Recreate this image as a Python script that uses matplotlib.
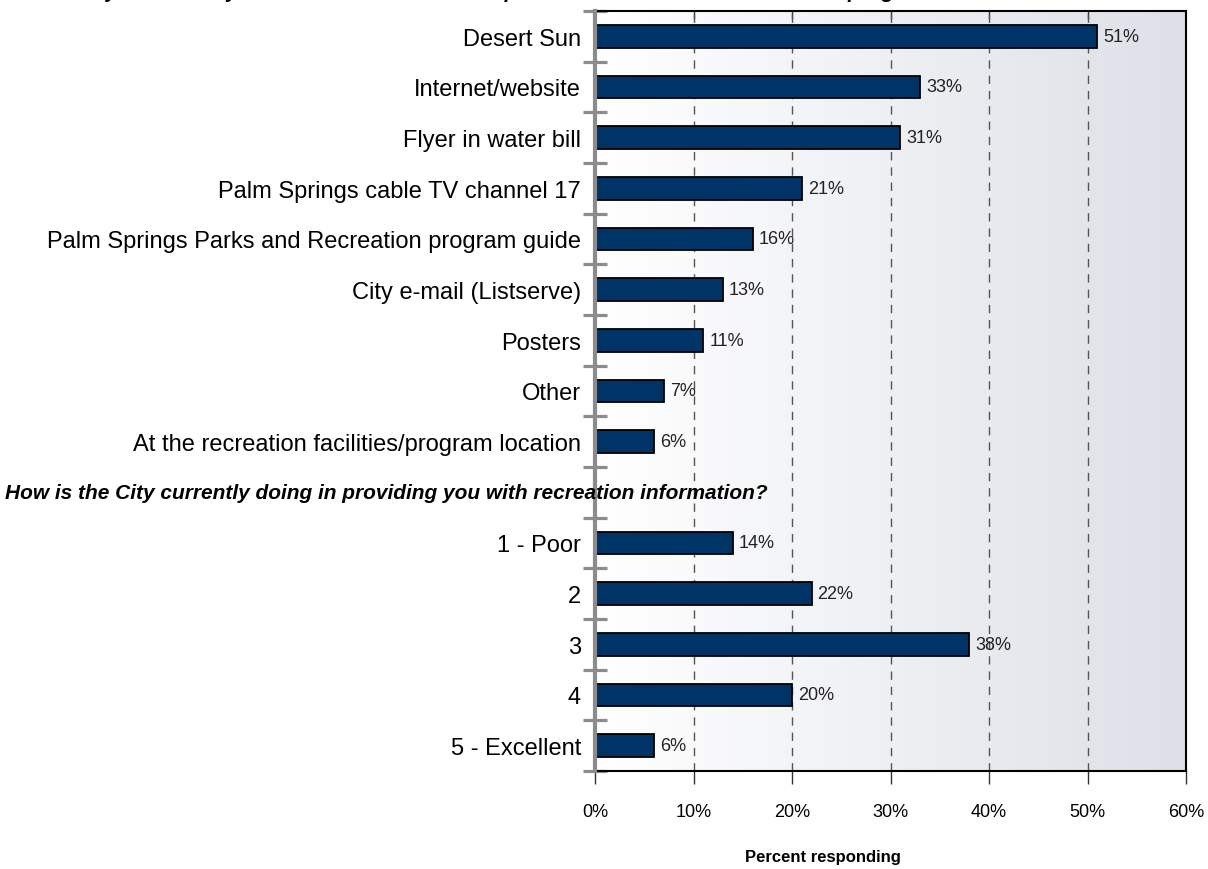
import numpy as np
import matplotlib
matplotlib.use("Agg")
import matplotlib.pyplot as plt
from matplotlib.transforms import blended_transform_factory

plt.rcParams['font.family'] = ['Liberation Sans', 'DejaVu Sans']

# Data
source_labels = ["Desert Sun", "Internet/website", "Flyer in water bill",
                 "Palm Springs cable TV channel 17",
                 "Palm Springs Parks and Recreation program guide",
                 "City e-mail (Listserve)", "Posters", "Other",
                 "At the recreation facilities/program location"]
source_values = [51, 33, 31, 21, 16, 13, 11, 7, 6]

rating_labels = ["1 - Poor", "2", "3", "4", "5 - Excellent"]
rating_values = [14, 22, 38, 20, 6]

title_top = "Where do you currently receive information about parks and recreation facilities and programs?"
title_mid = "How is the City currently doing in providing you with recreation information?"
x_ticks = [0, 10, 20, 30, 40, 50, 60]

W, H = 1208, 870
fig = plt.figure(figsize=(W / 100, H / 100), dpi=100)
ax = fig.add_axes([595 / W, 1 - 772 / H, (1186 - 595) / W, (772 - 12) / H])

# row positions: sources, an empty slot for the second question, ratings
n_src = len(source_labels)
header_pos = n_src
src_pos = np.arange(n_src)
rat_pos = np.arange(len(rating_labels)) + n_src + 1
n_rows = n_src + 1 + len(rating_labels)

# gradient background
grad = np.linspace(0, 1, 256).reshape(1, -1)
left_c = np.array([1.0, 1.0, 1.0])
right_c = np.array([221, 224, 231]) / 255
img = left_c[None, None, :] * (1 - grad[..., None]) + right_c[None, None, :] * grad[..., None]
ax.imshow(img, extent=[0, 60, n_rows - 0.5, -0.5], aspect='auto', zorder=0)

# gridlines
for xv in x_ticks[1:-1]:
    ax.axvline(xv, color='#555555', lw=1.0, ls=(0, (6, 5)), zorder=1)

bar_kw = dict(height=0.45, color='#003366', edgecolor='black', linewidth=1.3, zorder=3)
ax.barh(src_pos, source_values, **bar_kw)
ax.barh(rat_pos, rating_values, **bar_kw)

for p, v in zip(list(src_pos) + list(rat_pos), source_values + rating_values):
    ax.text(v + 0.6, p, f"{v}%", va='center', ha='left', fontsize=13, color='#222222', zorder=5)

ax.set_xlim(0, 60)
ax.set_ylim(n_rows - 0.5, -0.5)

ax.set_xticks(x_ticks)
ax.set_xticklabels([f"{t}%" for t in x_ticks], fontsize=13)
ax.tick_params(axis='x', direction='out', length=9, width=1, color='#333333', pad=14)

ax.set_yticks(list(src_pos) + list(rat_pos))
ax.set_yticklabels(source_labels + rating_labels, fontsize=17)
ax.tick_params(axis='y', which='major', length=0, pad=10)
ax.set_yticks(np.arange(n_rows + 1) - 0.5, minor=True)
ax.tick_params(axis='y', which='minor', direction='inout', length=17, width=2.3, color='#8c8c8c')

# top ticks inward
sec = ax.secondary_xaxis('top')
sec.set_xticks(x_ticks[1:-1])
sec.set_xticklabels([])
sec.tick_params(direction='in', length=6, width=1, color='#333333')
sec.spines['top'].set_visible(False)

for s in ['top', 'right', 'bottom']:
    ax.spines[s].set_color('black')
    ax.spines[s].set_linewidth(1.5)
ax.spines['left'].set_color('#8c8c8c')
ax.spines['left'].set_linewidth(3)
ax.spines['left'].set_zorder(4)

# second question header inside the chart
tr = blended_transform_factory(fig.transFigure, ax.transData)
ax.text(5 / W, header_pos, title_mid, transform=tr, ha='left', va='center',
        fontsize=15, fontweight='bold', fontstyle='italic', zorder=6, clip_on=False)

# first question title, cut off at the top edge
fig.text(5 / W, 1 + 2.5 / H, title_top, ha='left', va='baseline',
         fontsize=15, fontweight='bold', fontstyle='italic')

fig.text(823 / W, 1 - 858 / H, "Percent responding", ha='center', va='center',
         fontsize=12, fontweight='bold')

fig.savefig("out.png", dpi=100)
